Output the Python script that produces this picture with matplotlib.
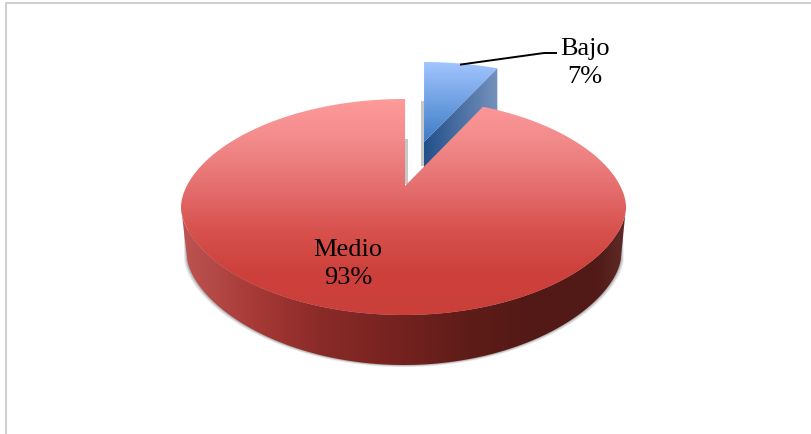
import numpy as np
import matplotlib
matplotlib.use('Agg')
import matplotlib.pyplot as plt
from matplotlib.colors import LinearSegmentedColormap
from matplotlib.patches import Polygon

plt.rcParams['font.family'] = ['Liberation Serif']

categories = ['Bajo', 'Medio']
values = [7, 93]

shares = np.array(values) / float(sum(values))
# the 3d view foreshortens the angle near the back of the pie
notch_red = 360 * shares[0] * 0.83
notch_blue = 360 * shares[0] * 0.78

cx, cy, a, b = 403.5, 208, 222.5, 108
depth = 50


def rim(t1, t2, x0=cx, y0=cy, ra=a, rb=b, q=1.1):
    # angles clockwise from 12 o'clock, y axis points down
    t = np.radians(np.linspace(t1, t2, 400))
    c = np.cos(t)
    return np.c_[x0 + ra * np.sin(t), y0 - rb * np.sign(c) * np.abs(c) ** q]


def fill(ax, verts, colors, extent, horizontal=False, z=2):
    cmap = LinearSegmentedColormap.from_list('g', colors)
    grad = np.linspace(0, 1, 256)
    grad = grad.reshape(1, -1) if horizontal else grad.reshape(-1, 1)
    im = ax.imshow(grad, cmap=cmap, extent=extent, aspect='auto', zorder=z, interpolation='bilinear')
    p = Polygon(verts, closed=True, transform=ax.transData, fc='none', ec='none')
    ax.add_patch(p)
    im.set_clip_path(p)


fig = plt.figure(figsize=(8.12, 4.35), dpi=100)
ax = fig.add_axes([0, 0, 1, 1])

# chart frame
ax.plot([6, 6, 812], [435, 3.5, 3.5], color='#d0d0d0', lw=1.5, zorder=1)

# blue slice
bx, by = cx + 19, cy - 37
blue_apex = (424, 143)
blue_rim = rim(0.4, notch_blue, bx, by, q=1.0)
blue_top = np.vstack([blue_apex, blue_rim])
side = np.array([blue_apex, blue_rim[-1], blue_rim[-1] + [0, depth], (424, 143 + depth)])
fill(ax, side, ['#234f8a', '#7592bd'], (424, 498, 200, 60), horizontal=True)
fill(ax, blue_top, ['#a3c6ff', '#3d7cc6'], (420, 500, 143, 62), z=3)
ax.fill([421.5, 424, 424, 421.5], [102, 102, 167, 167], color='#c8c8c8', lw=0, zorder=2)
ax.fill([405, 408, 408, 405], [140, 140, 185, 185], color='#c8c8c8', lw=0, zorder=2)

# soft shadow under the red slice
low = rim(90, 270, cx + 0.5, cy + depth, 217, b, q=1.2)
for k, alpha in zip([3, 2, 1], [0.10, 0.16, 0.24]):
    arc = rim(90, 270, cx + 0.5, cy + depth + k * 0.7, 217 + k, b, q=1.2)
    shadow = np.vstack([(623, 232), arc, (184, 232)])
    ax.fill(shadow[:, 0], shadow[:, 1], color='#555555', alpha=alpha, lw=0, zorder=3)

# red slice, side then top
upper = rim(90, 270)
side = np.vstack([upper, low[::-1]])
side_colors = [(0.0, '#bd5553'), (0.16, '#a83a37'), (0.31, '#8b2b28'), (0.49, '#752220'),
               (0.65, '#5e1c18'), (0.8, '#521916'), (0.94, '#521b18'), (1.0, '#5f2a27')]
fill(ax, side, side_colors, (181, 626, 380, 200), horizontal=True, z=4)

red_apex = (405, 187)
red_rim = rim(notch_red, 360.4)
fill(ax, np.vstack([red_apex, red_rim]),
     ['#ff9b9b', '#f28a8a', '#e57070', '#d8524e', '#cd403b', '#cb3f3a'],
     (175, 630, 318, 98), z=5)

# labels
ax.plot([461, 544, 556], [65.5, 54, 54], color='black', lw=1.4, zorder=6)
ax.text(585, 63, '%s\n%d%%' % (categories[0], values[0]), ha='center', va='center',
        fontsize=19, linespacing=1.4, color='black', zorder=7)
ax.text(348, 264, '%s\n%d%%' % (categories[1], values[1]), ha='center', va='center',
        fontsize=19, linespacing=1.4, color='black', zorder=7)

ax.set_xlim(0, 812)
ax.set_ylim(435, 0)
ax.axis('off')
fig.savefig('out.png', dpi=100)
